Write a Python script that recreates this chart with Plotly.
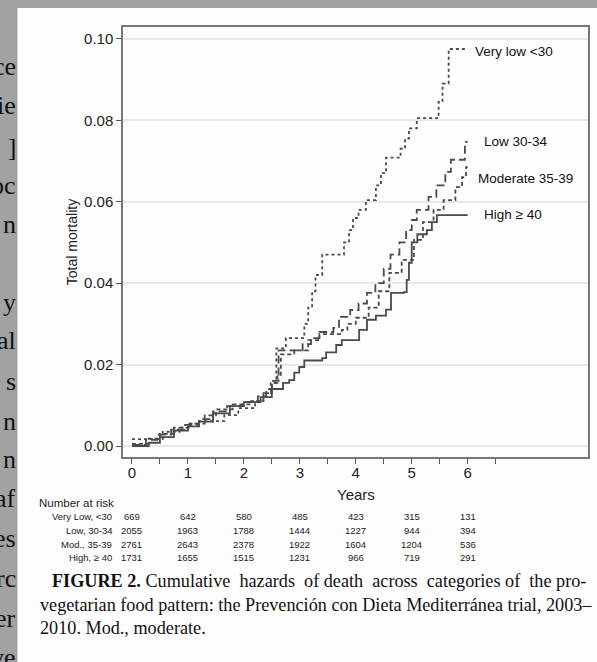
import plotly.graph_objects as go

# ---------------- data ----------------
very_low_t = [0, 0.55, 0.85, 1.05, 1.2, 1.65, 1.9, 2.2, 2.35, 2.48, 2.58, 2.75, 3.08, 3.15, 3.22, 3.28, 3.40,
              3.79, 3.88, 3.95, 4.05, 4.18, 4.36, 4.45, 4.54, 4.80, 4.88, 4.95, 5.09, 5.48, 5.55, 5.66, 5.98]
very_low_v = [0.0017, 0.0035, 0.0045, 0.0055, 0.0061, 0.0076, 0.0093, 0.011, 0.013, 0.0155, 0.024, 0.0265,
              0.030, 0.034, 0.038, 0.042, 0.047, 0.050, 0.053, 0.056, 0.058, 0.0604, 0.064, 0.067, 0.0708,
              0.073, 0.0755, 0.078, 0.0805, 0.0845, 0.089, 0.0975, 0.0975]

low_t = [0, 0.25, 0.45, 0.7, 0.95, 1.2, 1.45, 1.7, 2.0, 2.25, 2.4, 2.5, 2.62, 3.05, 3.2, 3.35, 3.6, 3.7, 3.9,
         4.05, 4.2, 4.35, 4.5, 4.62, 4.78, 4.9, 5.0, 5.09, 5.3, 5.44, 5.6, 5.7, 5.95, 6.0]
low_v = [0.0003, 0.0015, 0.0028, 0.004, 0.0052, 0.0066, 0.0085, 0.0098, 0.0108, 0.0122, 0.014, 0.016, 0.0235,
         0.025, 0.0265, 0.028, 0.029, 0.0317, 0.0334, 0.035, 0.0376, 0.040, 0.0435, 0.047, 0.050, 0.053,
         0.0555, 0.058, 0.0612, 0.064, 0.0673, 0.0703, 0.0747, 0.0747]

mod_t = [0, 0.3, 0.5, 0.75, 1.0, 1.3, 1.5, 1.8, 2.1, 2.35, 2.5, 2.6, 2.66, 2.9, 3.15, 3.35, 3.75, 3.85, 4.0,
         4.23, 4.41, 4.6, 4.82, 5.04, 5.2, 5.39, 5.57, 5.78, 5.9, 5.97, 6.0]
mod_v = [0.0005, 0.0018, 0.003, 0.0045, 0.0055, 0.0075, 0.009, 0.0102, 0.011, 0.013, 0.0155, 0.0175, 0.0225,
         0.0235, 0.026, 0.0275, 0.0285, 0.030, 0.0315, 0.034, 0.038, 0.0425, 0.0457, 0.0506, 0.055, 0.058,
         0.0604, 0.0636, 0.066, 0.0685, 0.0685]

high_t = [0, 0.3, 0.5, 0.75, 1.0, 1.2, 1.45, 1.75, 2.0, 2.3, 2.5, 2.7, 2.81, 2.9, 2.99, 3.08, 3.4, 3.47, 3.65,
          3.75, 4.06, 4.2, 4.36, 4.54, 4.63, 4.86, 4.91, 4.95, 5.0, 5.1, 5.27, 5.36, 5.45, 6.0]
high_v = [0.0, 0.0008, 0.0022, 0.0038, 0.0048, 0.006, 0.008, 0.0098, 0.0108, 0.012, 0.014, 0.0155, 0.0162,
          0.018, 0.0194, 0.021, 0.0216, 0.023, 0.0248, 0.026, 0.0285, 0.031, 0.032, 0.0335, 0.0376, 0.0378,
          0.0408, 0.045, 0.050, 0.052, 0.053, 0.055, 0.0567, 0.0567]

series_names = ["Very low <30", "Low 30-34", "Moderate 35-39", "High \u2265 40"]
label_x = [6.1, 6.25, 6.14, 6.25]
label_y = [0.0968, 0.0747, 0.0658, 0.0568]

y_ticks = [0.00, 0.02, 0.04, 0.06, 0.08, 0.10]
y_tick_text = ["0.00", "0.02", "0.04", "0.06", "0.08", "0.10"]
x_ticks = [0, 0.5, 1, 1.5, 2, 2.5, 3, 3.5, 4, 4.5, 5, 5.5, 6, 6.5]
x_tick_text = ["0", "", "1", "", "2", "", "3", "", "4", "", "5", "", "6", ""]

risk_years = [0, 1, 2, 3, 4, 5, 6]
risk_labels = ["Very Low, <30", "Low, 30-34", "Mod., 35-39", "High, \u2265 40"]
risk_very_low = [669, 642, 580, 485, 423, 315, 131]
risk_low = [2055, 1963, 1788, 1444, 1227, 944, 394]
risk_mod = [2761, 2643, 2378, 1922, 1604, 1204, 536]
risk_high = [1731, 1655, 1515, 1231, 966, 719, 291]

NB = "\u00a0"
caption_lines = [
    "<b>FIGURE 2.</b> Cumulative " + NB + "hazards " + NB + "of death " + NB + "across "
    + NB + "categories of " + NB + "the pro-",
    "vegetarian food pattern: the Prevención con Dieta Mediterránea trial, 2003–",
    "2010. Mod., moderate.",
]
margin_fragments = ["ce", "ie", "; ]", "oc", "n", "y", "al", "s", "n", "n", "af", "es", "rc", "er", "ve"]

# ---------------- layout geometry ----------------
W, H = 597, 662
L, R, T, B = 123, 7, 27, 205
PW, PH = W - L - R, H - T - B


def px(xp):
    return (xp - L) / PW


def py(yp):
    return (H - B - yp) / PH


LINE = "#4a4a4a"
SANS = "Liberation Sans, Arial"
fig = go.Figure()
styles = [
    dict(dash="3px,3px", width=1.8),
    dict(dash="8px,4px", width=1.8),
    dict(dash="4px,3px", width=1.8),
    dict(dash="solid", width=1.8),
]
for (t, v), st, nm in zip([(very_low_t, very_low_v), (low_t, low_v), (mod_t, mod_v), (high_t, high_v)],
                          styles, series_names):
    fig.add_trace(go.Scatter(x=t, y=v, mode="lines", line_shape="hv", name=nm,
                             line=dict(color=LINE, width=st["width"], dash=st["dash"]),
                             showlegend=False, hoverinfo="skip"))

annotations = []


def ann(**kw):
    kw.setdefault("showarrow", False)
    kw.setdefault("yanchor", "middle")
    kw.setdefault("xanchor", "center")
    annotations.append(kw)


for nm, lx, ly in zip(series_names, label_x, label_y):
    ann(x=lx, y=ly, xref="x", yref="y", text=nm, xanchor="left",
        font=dict(family=SANS, size=13.5, color="#111"))

# axis titles
ann(x=px(72), y=py(242), xref="paper", yref="paper", text="Total mortality", textangle=-90,
    font=dict(family=SANS, size=14, color="#222"))
ann(x=4, y=py(494), xref="x", yref="paper", text="Years", font=dict(family=SANS, size=15, color="#222"))

# number at risk table
ann(x=px(37), y=py(503), xref="paper", yref="paper", text="Number at risk", xanchor="left",
    font=dict(family=SANS, size=11.5, color="#222"))
row_y = [516, 530, 544, 557]
for lab, vals, ry in zip(risk_labels, [risk_very_low, risk_low, risk_mod, risk_high], row_y):
    ann(x=px(114), y=py(ry), xref="paper", yref="paper", text=lab, xanchor="right",
        font=dict(family=SANS, size=9.5, color="#222"))
    for yr, val in zip(risk_years, vals):
        ann(x=yr, y=py(ry), xref="x", yref="paper", text=str(val),
            font=dict(family=SANS, size=9.5, color="#222"))

# caption
cap_pos = [(50, 581), (38, 605), (38, 628)]
for line, (cx, cy) in zip(caption_lines, cap_pos):
    ann(x=px(cx), y=py(cy), xref="paper", yref="paper", text=line, xanchor="left",
        font=dict(family="Liberation Serif, Times New Roman", size=18.2, color="#111"))

# left margin fragments of the page behind
frag_y = [66, 106, 147, 185, 224, 302, 341, 381, 421, 459, 498, 538, 578, 618, 657]
for fr, fy in zip(margin_fragments, frag_y):
    ann(x=px(18), y=py(fy), xref="paper", yref="paper", text=fr, xanchor="right",
        font=dict(family="Liberation Serif, Times New Roman", size=26, color="#111"))

shapes = [
    # white page
    dict(type="rect", xref="paper", yref="paper", x0=px(17), x1=px(W + 5), y0=py(H + 5), y1=py(8),
         fillcolor="#fdfdfd", line=dict(width=0), layer="below"),
]

fig.update_layout(
    width=W, height=H,
    margin=dict(l=L, r=R, t=T, b=B),
    paper_bgcolor="#a2a2a2",
    plot_bgcolor="#fdfdfd",
    showlegend=False,
    annotations=annotations,
    shapes=shapes,
    xaxis=dict(range=[-0.16, 8.15], tickvals=x_ticks, ticktext=x_tick_text, ticks="outside", ticklen=5,
               tickcolor="#555", tickwidth=1.2, showgrid=False, zeroline=False, showline=True,
               linecolor="#777", linewidth=1.5, mirror=True, ticklabelstandoff=-4,
               tickfont=dict(family=SANS, size=15, color="#222")),
    yaxis=dict(range=[-0.0027, 0.1029], tickvals=y_ticks, ticktext=y_tick_text, ticks="outside", ticklen=5,
               tickcolor="#555", tickwidth=1.2, showgrid=True, gridcolor="#e8e8e8", gridwidth=1.5,
               zeroline=False, showline=True, linecolor="#777", linewidth=1.5, mirror=True,
               tickfont=dict(family=SANS, size=15, color="#222")),
)

fig.write_html("out.html", config={"displayModeBar": False},
               post_script="document.body.style.margin='0';document.body.style.overflow='hidden';")
